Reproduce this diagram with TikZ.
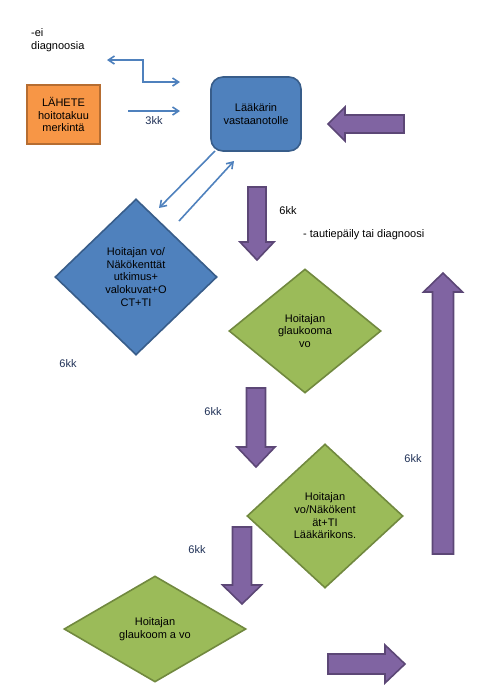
\documentclass[tikz,border=0pt]{standalone}
\usepackage{fontspec}
\setmainfont{Liberation Sans}
\usetikzlibrary{shapes.geometric,arrows.meta}
\definecolor{bluefill}{HTML}{4F81BD}
\definecolor{blueline}{HTML}{385D8A}
\definecolor{orangefill}{HTML}{F79646}
\definecolor{orangeline}{HTML}{B66D31}
\definecolor{greenfill}{HTML}{9BBB59}
\definecolor{greenline}{HTML}{71893F}
\definecolor{purplefill}{HTML}{8064A2}
\definecolor{purpleline}{HTML}{5C4776}
\definecolor{kknavy}{HTML}{1F3056}
\begin{document}
\begin{tikzpicture}
    [x=1pt, y=-1pt,
     every node/.style={font=\fontsize{11}{12.7}\selectfont, align=center, inner sep=0pt},
     lahete/.style={rectangle, fill=orangefill, draw=orangeline, line width=1.6pt},
     visit/.style={rectangle, rounded corners=12pt, fill=bluefill, draw=blueline, line width=1.6pt},
     bluediam/.style={diamond, fill=bluefill, draw=blueline, line width=1.6pt},
     greendiam/.style={diamond, fill=greenfill, draw=greenline, line width=1.6pt},
     blockarrow/.style={fill=purplefill, draw=purpleline, line width=1.6pt, line join=miter},
     conn/.style={draw=bluefill, line width=1.6pt, -{Straight Barb[length=6pt,width=8pt]}},
     kk/.style={text=kknavy}]
    \useasboundingbox (0,0) rectangle (482,699);
    % \draw[step=50pt,gray,very thin] (0,0) grid (482,699);
    \node[anchor=west, align=left] (eidiag) at (31,40) {-ei\\diagnoosia};
    \node[lahete, minimum width=73pt, minimum height=59pt] (L) at (63.5,114.5) {LÄHETE\\hoitotakuu\\merkintä};
    \node[visit, minimum width=90pt, minimum height=74pt] (V) at (256,114) {Lääkärin\\vastaanotolle};
    \node[bluediam, minimum width=162pt, minimum height=156pt] (D0) at (136,277)
        {Hoitajan vo/\\Näkökenttät\\utkimus+\\valokuvat+O\\CT+TI};
    \node[greendiam, minimum width=152pt, minimum height=124pt] (G1) at (305,331)
        {Hoitajan\\glaukooma\\vo};
    \node[greendiam, minimum width=156pt, minimum height=144pt] (G2) at (325,516)
        {Hoitajan\\vo/Näkökent\\ät+TI\\Lääkärikons.};
    \node[greendiam, minimum width=182pt, minimum height=106pt] (G3) at (155,629)
        {Hoitajan\\glaukoom a vo};
    \node[kk] (kk3) at (154,121) {3kk};
    \node (kk6a) at (288,211) {6kk};
    \node[anchor=west] (tauti) at (303,235) {- tautiepäily tai diagnoosi};
    \node[kk] (kk6b) at (68,364) {6kk};
    \node[kk] (kk6c) at (213,412) {6kk};
    \node[kk] (kk6d) at (413,459) {6kk};
    \node[kk] (kk6e) at (197,550) {6kk};
    % thin blue connectors
    \coordinate (e1) at (107,60);
    \coordinate (e2) at (180,82);
    \coordinate (h1) at (128,111);
    \coordinate (h2) at (180,111);
    \coordinate (d1) at (215,151);
    \coordinate (d2) at (159,208);
    \coordinate (d3) at (179,221);
    \coordinate (d4) at (234,161);
    \draw[conn, {Straight Barb[length=6pt,width=8pt]}-{Straight Barb[length=6pt,width=8pt]}]
        (e1) -- ++(36,0) |- (e2);
    \draw[conn] (h1) -- (h2);
    \draw[conn] (d1) -- (d2);
    \draw[conn] (d3) -- (d4);
    % purple block arrows
    \draw[blockarrow] (404,115) -- (345,115) -- (345,107) -- (328,124) -- (345,141) -- (345,133) -- (404,133) -- cycle;
    \draw[blockarrow] (248,187) -- (266,187) -- (266,242) -- (274,242) -- (257,260) -- (240,242) -- (248,242) -- cycle;
    \draw[blockarrow] (246.5,388) -- (265.5,388) -- (265.5,447) -- (275,447) -- (256,467) -- (237,447) -- (246.5,447) -- cycle;
    \draw[blockarrow] (232.5,527) -- (251.5,527) -- (251.5,585) -- (261.5,585) -- (242,604) -- (222.5,585) -- (232.5,585) -- cycle;
    \draw[blockarrow] (432.5,554) -- (453.5,554) -- (453.5,292) -- (462.5,292) -- (443,273) -- (423.5,292) -- (432.5,292) -- cycle;
    \draw[blockarrow] (328,654) -- (385,654) -- (385,645) -- (405,664) -- (385,683) -- (385,674) -- (328,674) -- cycle;
\end{tikzpicture}
\end{document}
